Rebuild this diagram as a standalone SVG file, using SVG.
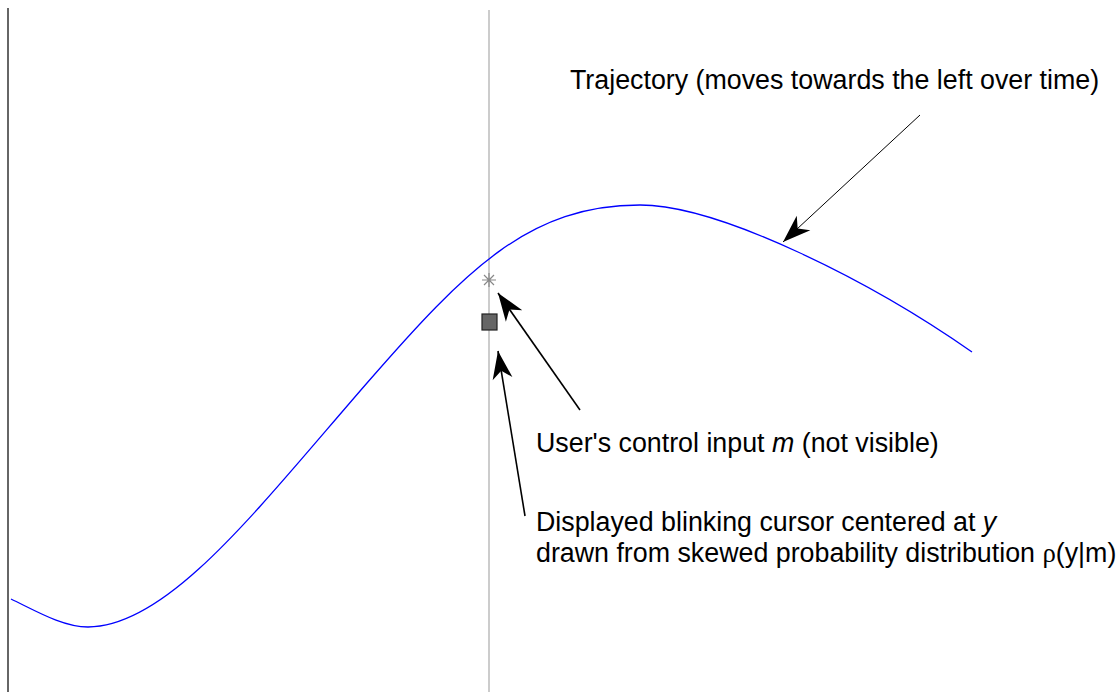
<svg xmlns="http://www.w3.org/2000/svg" width="1117" height="692" viewBox="0 0 1117 692">
<style>
.lbl{font-family:"Liberation Sans",Arial,sans-serif;font-size:26.8px;fill:#000}
.it{font-style:italic}
.arr{stroke:#000;fill:none}
</style>
<defs>
<marker id="head" markerUnits="userSpaceOnUse" markerWidth="40" markerHeight="30" viewBox="-32 -15 40 30" refX="0" refY="0" orient="auto">
<path d="M0,0 L-28,-10 L-20,0 L-28,10 Z" fill="#000"/>
</marker>
</defs>
<rect width="1117" height="692" fill="#fff"/>
<g id="axes">
<line x1="8" y1="8" x2="8" y2="692" stroke="#333" stroke-width="1.5"/>
<line x1="489" y1="10" x2="489" y2="692" stroke="#aaa" stroke-width="1.2"/>
</g>
<g id="trajectory">
<path d="M11,599 C36,611 63,627 88,627 C168,627 257,509.5 367,383 C467,268 530,205 640,205 C720,205 872,282 972,352" fill="none" stroke="#0000ff" stroke-width="1.3"/>
</g>
<g id="control-input">
<path d="M482,280 H496 M489,273 V287 M484,275 L494,285 M494,275 L484,285" stroke="#888" stroke-width="1.2" fill="none"/>
</g>
<g id="cursor">
<rect x="482" y="314" width="15" height="16" fill="#666" stroke="#222" stroke-width="1.2"/>
</g>
<g id="connectors">
<line class="arr" x1="920" y1="115" x2="783" y2="242" stroke-width="1" marker-end="url(#head)"/>
<line class="arr" x1="580" y1="410" x2="498" y2="293" stroke-width="1.6" marker-end="url(#head)"/>
<line class="arr" x1="525" y1="516" x2="498" y2="351" stroke-width="1.6" marker-end="url(#head)"/>
</g>
<g id="labels">
<text class="lbl" x="570" y="89">Trajectory (moves towards the left over time)</text>
<text class="lbl" x="536" y="452">User's control input <tspan class="it">m</tspan> (not visible)</text>
<text class="lbl" x="536" y="531">Displayed blinking cursor centered at <tspan class="it">y</tspan></text>
<text class="lbl" x="536" y="562">drawn from skewed probability distribution <tspan font-family="'Liberation Serif',serif">ρ</tspan>(y|m)</text>
</g>
</svg>
